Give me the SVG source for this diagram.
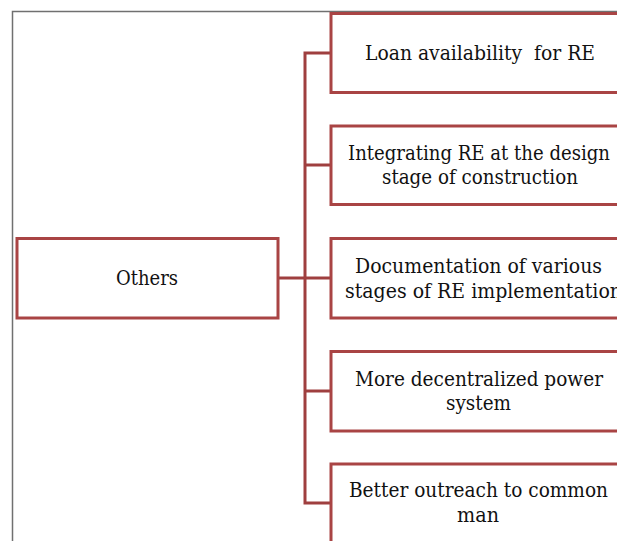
<svg xmlns="http://www.w3.org/2000/svg" width="617" height="541" viewBox="0 0 617 541">
  <style>
    .frame { fill: none; stroke: #707070; stroke-width: 1.5; }
    .box { fill: #ffffff; stroke: #a94444; stroke-width: 3; }
    .link { fill: none; stroke: #9f3f3f; stroke-width: 3; }
    text { font-family: "DejaVu Serif", serif; font-size: 20px; fill: #111111; }
  </style>
  <rect width="617" height="541" fill="#ffffff"/>
  <!-- outer frame -->
  <path class="frame" d="M12.5 545 V11.5 H620"/>

  <g id="connectors">
    <path class="link" d="M278 278 H305"/>
    <path class="link" d="M331 53 H305 V503 H331"/>
    <path class="link" d="M305 165 H331"/>
    <path class="link" d="M305 278 H331"/>
    <path class="link" d="M305 391 H331"/>
  </g>

  <g id="others">
    <rect class="box" x="17" y="238.5" width="261" height="79.5"/>
    <text x="116" y="285" textLength="62" lengthAdjust="spacingAndGlyphs">Others</text>
  </g>

  <g id="loan">
    <rect class="box" x="331" y="13.5" width="298" height="79"/>
    <text x="365" y="60" textLength="230" lengthAdjust="spacingAndGlyphs" xml:space="preserve">Loan availability  for RE</text>
  </g>

  <g id="integrating">
    <rect class="box" x="331" y="126" width="298" height="78.5"/>
    <text x="348" y="159.5" textLength="262" lengthAdjust="spacingAndGlyphs">Integrating RE at the design</text>
    <text x="382" y="184" textLength="196" lengthAdjust="spacingAndGlyphs">stage of construction</text>
  </g>

  <g id="documentation">
    <rect class="box" x="331" y="238.5" width="298" height="79.5"/>
    <text x="355" y="273" textLength="247" lengthAdjust="spacingAndGlyphs">Documentation of various</text>
    <text x="345" y="297.5" textLength="277" lengthAdjust="spacingAndGlyphs">stages of RE implementation</text>
  </g>

  <g id="decentralized">
    <rect class="box" x="331" y="351.5" width="298" height="79.5"/>
    <text x="355" y="385.5" textLength="248" lengthAdjust="spacingAndGlyphs">More decentralized power</text>
    <text x="446" y="410" textLength="65" lengthAdjust="spacingAndGlyphs">system</text>
  </g>

  <g id="outreach">
    <rect class="box" x="331" y="464" width="298" height="90"/>
    <text x="349" y="497" textLength="259" lengthAdjust="spacingAndGlyphs">Better outreach to common</text>
    <text x="457" y="522" textLength="42" lengthAdjust="spacingAndGlyphs">man</text>
  </g>
</svg>
